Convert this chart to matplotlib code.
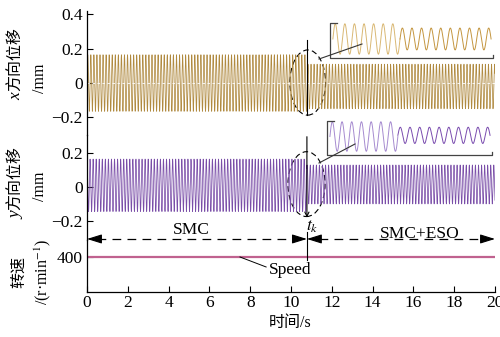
import numpy as np
import matplotlib
matplotlib.use('Agg')
import matplotlib.pyplot as plt
from matplotlib.patches import Ellipse
from matplotlib.lines import Line2D

plt.rcParams['font.family'] = ['Liberation Serif', 'Noto Sans CJK SC']
plt.rcParams['mathtext.fontset'] = 'stix'

# ---------------- data ----------------
t_k = 10.78                    # switching time (s)
t_end = 20.0
rot_freq_hz = 6.67             # 400 r/min rotation frequency
x_amp = [0.165, 0.13]          # x displacement amplitude before / after t_k (mm)
x_offset = [0.0, -0.02]
y_amp = [0.155, 0.115]         # y displacement amplitude before / after t_k (mm)
y_offset = [0.01, 0.015]
speed_rpm = [400, 400]         # speed before / after t_k
time_ticks = [0, 2, 4, 6, 8, 10, 12, 14, 16, 18, 20]
x_yticks = [-0.2, 0, 0.2, 0.4]
x_yticklabels = ['\u22120.2', '0', '0.2', '0.4']
y_yticks = [-0.2, 0, 0.2]
y_yticklabels = ['\u22120.2', '0', '0.2']
speed_yticks = [400]
inset_cycles = [7, 9.5]        # zoomed cycles before / after t_k
inset_x_amp = [1.0, 0.72]
inset_y_amp = [1.0, 0.55]
inset_y_off = [0.0, 0.08]

# -------------- signals ---------------
t = np.linspace(0, t_end, 8001)
ph = np.sin(2 * np.pi * rot_freq_hz * t)
pc = np.cos(2 * np.pi * rot_freq_hz * t)
before = t < t_k
x_sig = np.where(before, x_amp[0] * ph + x_offset[0], x_amp[1] * ph + x_offset[1])
y_sig = np.where(before, y_amp[0] * pc + y_offset[0], y_amp[1] * pc + y_offset[1])
sp = np.where(before, speed_rpm[0], speed_rpm[1])

W, H = 500, 337
fig = plt.figure(figsize=(W / 100, H / 100), dpi=100)

def fx(px):
    return px / W

def fy(py):
    return 1 - py / H

L, R = 87, 495
ax1 = fig.add_axes([fx(L), fy(134.5), (R - L) / W, 123.5 / H])
ax2 = fig.add_axes([fx(L), fy(239.5), (R - L) / W, 105 / H])
ax3 = fig.add_axes([fx(L), fy(292), (R - L) / W, 52.5 / H])

for ax in (ax1, ax2, ax3):
    ax.set_xlim(0, t_end)
    ax.patch.set_alpha(0)
    ax.spines['top'].set_visible(False)
    ax.spines['right'].set_visible(False)
    ax.spines['left'].set_linewidth(0.9)
    ax.tick_params(direction='in', length=4, width=0.8, labelsize=12.5, pad=3)
for ax in (ax1, ax2):
    ax.spines['bottom'].set_visible(False)
    ax.set_xticks([])
ax3.spines['bottom'].set_linewidth(0.9)

# x panel
ax1.plot(t, x_sig, color='#b08a40', lw=0.55)
ax1.axhline(0, color='white', lw=0.6, ls=(0, (3, 3)))
ax1.set_ylim(-0.3, 0.42)
ax1.set_yticks(x_yticks)
ax1.set_yticklabels(x_yticklabels)

# y panel
ax2.plot(t, y_sig, color='#7a4ea8', lw=0.55)
ax2.set_ylim(-0.31, 0.31)
ax2.set_yticks(y_yticks)
ax2.set_yticklabels(y_yticklabels)

# speed panel
ax3.plot(t, sp, color='#c0628f', lw=1.6)
ax3.set_ylim(0, 600)
ax3.set_yticks(speed_yticks)
ax3.set_xticks(time_ticks)
ax3.tick_params(axis='x', pad=2)

# ellipses and t_k markers
dash = (0, (5, 3))
ax1.add_patch(Ellipse((10.82, 0.003), 1.75, 0.38, fill=False, ec='k', lw=0.8, ls=dash, clip_on=False))
ax2.add_patch(Ellipse((10.76, 0.017), 1.82, 0.383, fill=False, ec='k', lw=0.8, ls=dash, clip_on=False))
ax1.plot([t_k, t_k], [0.253, -0.188], color='k', lw=0.8, clip_on=False)
ax2.annotate('', xy=(t_k, -0.18), xytext=(t_k, 0.297),
             arrowprops=dict(arrowstyle='->,head_length=0.3,head_width=0.15', color='k', lw=0.8,
                             shrinkA=0, shrinkB=0), annotation_clip=False)
ax3.plot([t_k, t_k], [686, 366], color='k', lw=0.8, clip_on=False)

# arrow row
ya = 606
ap = dict(arrowstyle='-|>,head_length=0.9,head_width=0.28', color='k', lw=0.8, shrinkA=0, shrinkB=0)
ax3.plot([0.5, t_k - 0.6], [ya, ya], color='k', lw=0.9, ls=(0, (7, 5)), clip_on=False)
ax3.plot([t_k + 0.6, t_end - 0.5], [ya, ya], color='k', lw=0.9, ls=(0, (7, 5)), clip_on=False)
ax3.annotate('', xy=(0, ya), xytext=(0.7, ya), arrowprops=ap, annotation_clip=False)
ax3.annotate('', xy=(t_k, ya), xytext=(t_k - 0.7, ya), arrowprops=ap, annotation_clip=False)
ax3.annotate('', xy=(t_k, ya), xytext=(t_k + 0.7, ya), arrowprops=ap, annotation_clip=False)
ax3.annotate('', xy=(t_end, ya), xytext=(t_end - 0.7, ya), arrowprops=ap, annotation_clip=False)
ax3.text(5.1, 663, 'SMC', ha='center', va='baseline', fontsize=12.5, clip_on=False)
ax3.text(16.3, 612, 'SMC+ESO', ha='center', va='baseline', fontsize=12.5, clip_on=False)
ax3.text(11.05, 743, '$t_k$', ha='center', va='center', fontsize=12.5, clip_on=False)
ax3.text(9.95, 251, 'Speed', ha='center', va='center', fontsize=12.5)
ax3.plot([7.5, 8.78], [400, 286], color='k', lw=0.7)

# insets
def make_inset(px_l, px_t, px_r, px_b, amps, offs, cols):
    axi = fig.add_axes([fx(px_l), fy(px_b), (px_r - px_l) / W, (px_b - px_t) / H])
    axi.axis('off')
    n1, n2 = inset_cycles
    c1 = np.linspace(0, n1, 400)
    c2 = np.linspace(n1, n1 + n2, 600)
    axi.plot(c1, amps[0] * np.sin(2 * np.pi * c1) + offs[0], color=cols[0], lw=0.7)
    axi.plot(c2, amps[1] * np.sin(2 * np.pi * c2) + offs[1], color=cols[1], lw=0.7)
    axi.set_xlim(-0.3, n1 + n2 + 0.2)
    axi.set_ylim(-1.25, 1.05)
    tr = axi.transAxes
    axi.plot([0.04, 0, 0, 1, 1], [1, 1, 0, 0, 0.08], color='#444444', lw=0.9,
             transform=tr, clip_on=False)
    return axi

make_inset(330, 23, 493, 58, inset_x_amp, [0, 0], ['#d9b874', '#c49640'])
make_inset(327, 121, 492, 155, inset_y_amp, inset_y_off, ['#a68bd0', '#7a4caf'])

fig.add_artist(Line2D([fx(319), fx(362)], [fy(59), fy(44)], color='#333333', lw=0.8))
fig.add_artist(Line2D([fx(319), fx(355)], [fy(163), fy(144)], color='#333333', lw=0.8))

# labels
lab = dict(rotation=90, ha='center', va='center', fontsize=11.5)
fig.text(fx(16), fy(59), '方向位移', **lab)
fig.text(fx(16), fy(92), 'x', rotation=90, ha='center', va='top', fontsize=12.5, style='italic')
fig.text(fx(40), fy(78), '/mm', **lab)
fig.text(fx(16), fy(178), '方向位移', **lab)
fig.text(fx(16), fy(211), 'y', rotation=90, ha='center', va='top', fontsize=12.5, style='italic')
fig.text(fx(40), fy(186), '/mm', **lab)
fig.text(fx(19), fy(272), '转速', **lab)
fig.text(fx(43), fy(272), '/(r\u00b7min$^{-1}$)', **lab)
fig.text(fx(290), fy(323), '时间/s', ha='center', va='center', fontsize=11.5)

fig.savefig('out.png', dpi=100)
